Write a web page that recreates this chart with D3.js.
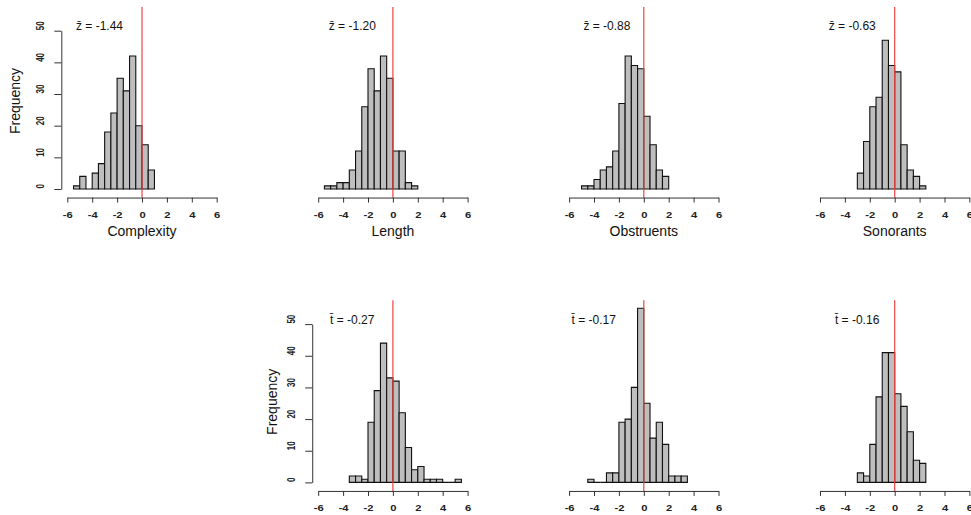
<!DOCTYPE html>
<html>
<head>
<meta charset="utf-8">
<script src="https://cdn.jsdelivr.net/npm/d3@7/dist/d3.min.js"></script>
<style>
  html, body { margin: 0; padding: 0; background: #fff; }
  svg { display: block; font-family: "Liberation Sans", Arial, sans-serif; }
</style>
</head>
<body>
<script>
// ---------------- data ----------------
const binWidth = 0.5;
const panelTitles = ["Complexity", "Length", "Obstruents", "Sonorants", null, null, null];
const statSymbols = ["z", "z", "z", "z", "t", "t", "t"];
const meanValues = [-1.44, -1.20, -0.88, -0.63, -0.27, -0.17, -0.16];
const binStarts = [-5.5, -5.5, -5.0, -3.0, -3.5, -4.5, -3.0];
const countsComplexity = [1, 4, 0, 5, 8, 18, 24, 35, 31, 42, 20, 14, 6];
const countsLength     = [1, 1, 2, 2, 6, 12, 26, 38, 31, 42, 35, 12, 12, 2, 1];
const countsObstruents = [1, 1, 3, 6, 7, 12, 27, 42, 39, 38, 23, 14, 6, 4];
const countsSonorants  = [5, 15, 26, 29, 47, 39, 37, 14, 6, 4, 1];
const countsT1 = [2, 2, 1, 19, 29, 44, 33, 32, 22, 11, 4, 5, 1, 1, 1, 0, 0, 1];
const countsT2 = [1, 0, 0, 3, 3, 19, 20, 30, 55, 25, 14, 19, 12, 2, 2, 2];
const countsT3 = [3, 2, 12, 27, 41, 41, 28, 24, 16, 7, 6];
const allCounts = [countsComplexity, countsLength, countsObstruents, countsSonorants, countsT1, countsT2, countsT3];
const xTicks = [-6, -4, -2, 0, 2, 4, 6];
const yTicks = [0, 10, 20, 30, 40, 50];
const labelX = [-5.3, -5.15, -4.85, -5.3, -5.05, -5.8, -4.8]; // annotation anchor (data units)
const labelY = 51.4;

// ---------------- layout ----------------
const W = 971, H = 515;
const panelRow = [0, 0, 0, 0, 1, 1, 1];
const panelCol = [0, 1, 2, 3, 1, 2, 3];
const showYAxis = [true, false, false, false, true, false, false];
const freqOffX = [46, 40.6];
const freqOffY = [-88, -80.6];

const svg = d3.select("body").append("svg")
  .attr("width", W).attr("height", H)
  .attr("viewBox", `0 0 ${W} ${H}`);
svg.append("rect").attr("width", W).attr("height", H).attr("fill", "#fff");

allCounts.forEach((counts, i) => {
  const r = panelRow[i], c = panelCol[i];
  const x0 = 142 + 250.9 * c;
  const base = 189 + 293.4 * r;
  const x = d3.scaleLinear().domain([-6, 6]).range([x0 - 74.7, x0 + 74.7]);
  const y = d3.scaleLinear().domain([0, 50]).range([base, base - 158.3]);
  const xLeft = x(-6.48);
  const yTop = y(57.5), yBot = y(-2.7);

  const g = svg.append("g");

  const bins = counts.map((n, k) => ({ a: binStarts[i] + k * binWidth, n }));
  g.selectAll("path.bar").data(bins).join("path")
    .attr("class", "bar")
    .attr("d", d => `M${x(d.a)},${y(0)}V${y(d.n)}H${x(d.a + binWidth)}V${y(0)}Z`)
    .attr("fill", "#bebebe")
    .attr("stroke", "#111")
    .attr("stroke-width", 1.1);

  // red reference line at zero
  g.append("line")
    .attr("x1", x(0)).attr("x2", x(0))
    .attr("y1", yTop).attr("y2", yBot)
    .attr("stroke", "#ee4444").attr("stroke-width", 1.2);

  // x axis
  const xa = g.append("g").attr("transform", `translate(0,${yBot})`)
    .call(d3.axisBottom(x).tickValues(xTicks).tickSize(5).tickSizeOuter(0).tickFormat(d => String(d)));
  xa.select(".domain").attr("stroke", "#333");
  xa.selectAll(".tick line").attr("stroke", "#333");
  xa.selectAll(".tick text")
    .attr("y", null).attr("dy", null)
    .attr("dominant-baseline", "central")
    .attr("transform", "translate(0,17) scale(1.3,1)")
    .attr("font-family", "Liberation Sans, Arial, sans-serif")
    .attr("font-size", 8.6).attr("font-weight", "bold").attr("fill", "#222");

  if (panelTitles[i]) {
    g.append("text")
      .attr("x", x0).attr("y", yBot + 38)
      .attr("text-anchor", "middle")
      .attr("font-size", 14).attr("fill", "#111")
      .text(panelTitles[i]);
  }

  if (showYAxis[i]) {
    const ya = g.append("g").attr("transform", `translate(${xLeft},0)`)
      .call(d3.axisLeft(y).tickValues(yTicks).tickSize(7).tickSizeOuter(0));
    ya.select(".domain").attr("stroke", "#333");
    ya.selectAll(".tick line").attr("stroke", "#333");
    ya.selectAll(".tick text")
      .attr("x", null).attr("dy", null)
      .attr("text-anchor", "start")
      .attr("dominant-baseline", "central")
      .attr("transform", "translate(-21,-1) rotate(-90) scale(1,1.3)")
      .attr("font-family", "Liberation Sans, Arial, sans-serif")
      .attr("font-size", 8).attr("font-weight", "bold").attr("fill", "#222");
    g.append("text")
      .attr("transform", `translate(${xLeft - freqOffX[r]},${base + freqOffY[r]}) rotate(-90)`)
      .attr("text-anchor", "middle")
      .attr("dominant-baseline", "central")
      .attr("font-size", 14).attr("fill", "#111")
      .text("Frequency");
  }

  // mean annotation
  g.append("text")
    .attr("x", x(labelX[i])).attr("y", y(labelY))
    .attr("dominant-baseline", "central")
    .attr("font-size", 12).attr("fill", "#111")
    .text(`${statSymbols[i]}\u0304 = ${meanValues[i].toFixed(2)}`);
});
</script>
</body>
</html>
